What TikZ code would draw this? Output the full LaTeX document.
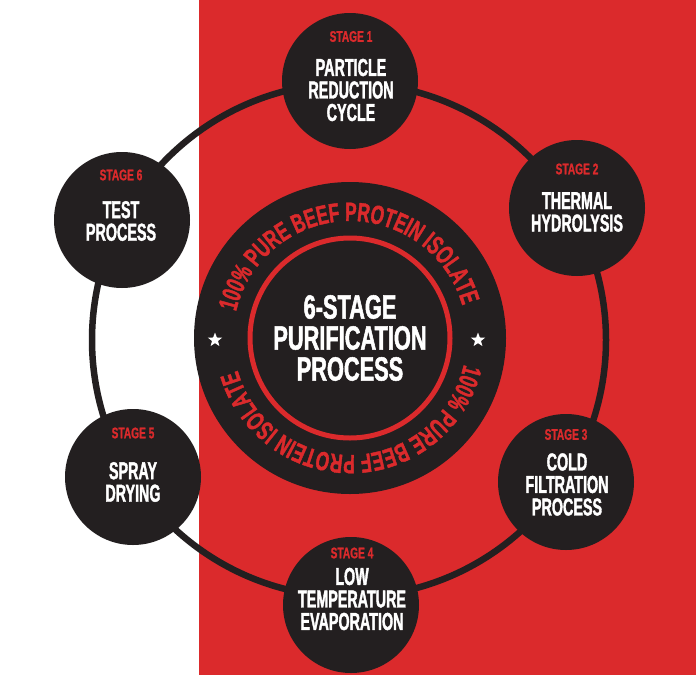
\documentclass[tikz,border=0pt]{standalone}
\usepackage{fontspec}
\usetikzlibrary{shapes.geometric,decorations.text,calc}
\newfontfamily\stagefont[FakeStretch=0.585,FakeBold=1.5]{Liberation Sans Bold}
\newfontfamily\tagfont[FakeStretch=0.66,FakeBold=1]{Liberation Sans Bold}
\newfontfamily\hubfont[FakeStretch=0.65,FakeBold=1.5]{Liberation Sans Bold}
\newfontfamily\arcfont[FakeStretch=0.65,FakeBold=1.5]{Liberation Sans Bold}
\definecolor{bgred}{HTML}{DB2A2C}
\definecolor{ink}{HTML}{231F20}
\begin{document}
\begin{tikzpicture}[x=1pt,y=-1pt,
  stagedisk/.style={circle, fill=ink, minimum size=136pt, inner sep=0pt},
  stagetag/.style={text=bgred, font=\tagfont\fontsize{15.4pt}{15.4pt}\selectfont, inner sep=0pt},
  stagename/.style={text=white, align=center, font=\stagefont\fontsize{24.5pt}{22.5pt}\selectfont, inner sep=0pt},
  hubtext/.style={text=white, align=center, font=\hubfont\fontsize{33.5pt}{31pt}\selectfont, inner sep=0pt},
  arctext/.style={decorate, decoration={text along path, text align=center, text color=bgred,
     text={|\arcfont\fontsize{26.5pt}{26.5pt}\selectfont|100{\%} PURE BEEF PROTEIN ISOLATE}}},
  starmark/.style={star, star points=5, star point ratio=2.4, fill=white, minimum size=15pt, inner sep=0pt},
  ringline/.style={draw=ink, line width=6.5pt}]
\useasboundingbox (0,0) rectangle (696,675);
\fill[white] (0,0) rectangle (199,675);
\fill[bgred] (199,0) rectangle (696,675);

% ring
\coordinate (ringc) at (349,340);
\draw[ringline] (ringc) circle[radius=257];

% hub
\node[circle, fill=ink, minimum size=312pt, inner sep=0pt] (hub) at (350,338) {};
\draw[draw=bgred, line width=5pt] (hub.center) circle[radius=100];
\node[hubtext] (hubt) at (350,338) {6-STAGE\\PURIFICATION\\PROCESS};
\path[arctext] ($(hub.center)+(-167:117)$) arc[start angle=-167, end angle=-16, radius=117];
\path[arctext] ($(hub.center)+(13:117)$) arc[start angle=13, end angle=164, radius=117];
\node[starmark] (starL) at (215,340) {};
\node[starmark] (starR) at (478,340) {};

% stages
\node[stagedisk] (s1) at (350,81) {};
\node[stagetag] (t1) at (351,36.5) {STAGE 1};
\node[stagename] (n1) at (351,90) {PARTICLE\\REDUCTION\\CYCLE};

\node[stagedisk] (s2) at (577,208) {};
\node[stagetag] (t2) at (577,169) {STAGE 2};
\node[stagename] (n2) at (577,212) {THERMAL\\HYDROLYSIS};

\node[stagedisk] (s3) at (566,482) {};
\node[stagetag] (t3) at (566,434.5) {STAGE 3};
\node[stagename] (n3) at (567,484.5) {COLD\\FILTRATION\\PROCESS};

\node[stagedisk] (s4) at (351,605) {};
\node[stagetag] (t4) at (352,553) {STAGE 4};
\node[stagename] (n4) at (352,599) {LOW\\TEMPERATURE\\EVAPORATION};

\node[stagedisk] (s5) at (133,477) {};
\node[stagetag] (t5) at (133,433) {STAGE 5};
\node[stagename] (n5) at (133,482) {SPRAY\\DRYING};

\node[stagedisk] (s6) at (122,220) {};
\node[stagetag] (t6) at (121,175) {STAGE 6};
\node[stagename] (n6) at (121,221) {TEST\\PROCESS};
\end{tikzpicture}
\end{document}
